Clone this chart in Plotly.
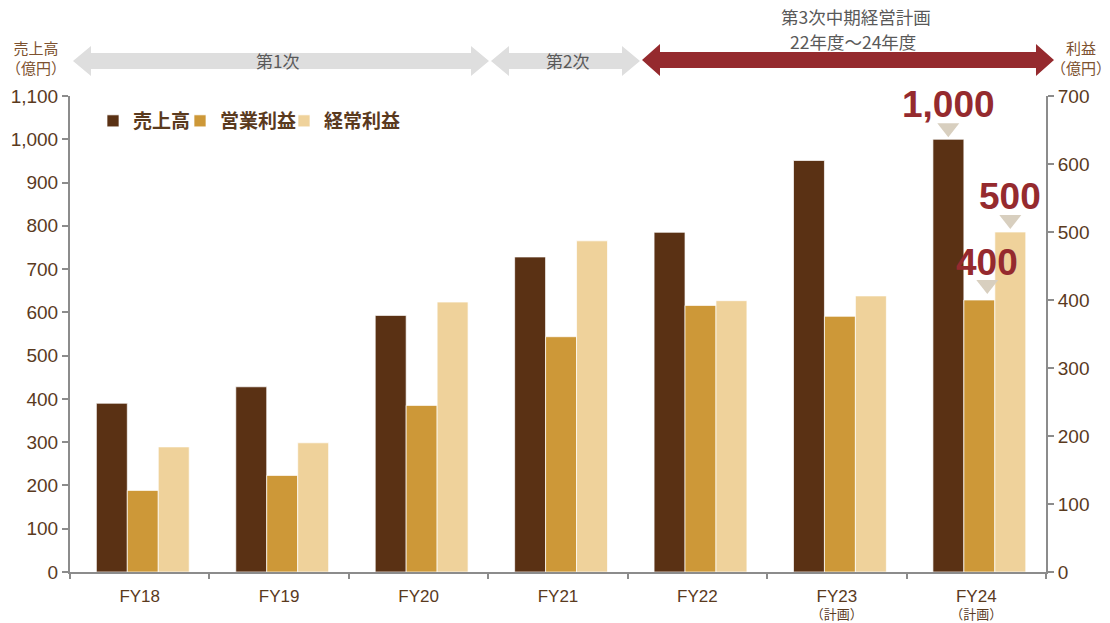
import plotly.graph_objects as go

# ---------------- data ----------------
categories = ["FY18", "FY19", "FY20", "FY21", "FY22", "FY23", "FY24"]
tick_sub = ["", "", "", "", "", "（計画）", "（計画）"]
sales = [390, 428, 593, 728, 785, 951, 1000]            # 売上高 (left axis)
operating_profit = [120, 142, 245, 346, 392, 376, 400]  # 営業利益 (right axis)
ordinary_profit = [184, 190, 397, 487, 399, 406, 500]   # 経常利益 (right axis)
series_names = ["売上高", "営業利益", "経常利益"]
left_ticks = list(range(0, 1101, 100))
right_ticks = list(range(0, 701, 100))
phase_labels = ["第1次", "第2次", "第3次中期経営計画", "22年度～24年度"]
left_title = "売上高<br>（億円）"
right_title = "利益<br>（億円）"

# ---------------- styles ----------------
C_SALES = "#5a3114"
C_OP = "#cd9838"
C_ORD = "#efd29b"
C_TEXT = "#5a3a1e"
C_AXIS = "#8c8c8c"
C_RED = "#952a2e"
C_GRAY_ARROW = "#dedede"
C_TRI = "#d8cfbf"
NUM_FONT = "Liberation Sans, Noto Sans CJK JP, sans-serif"
JP_FONT = "Noto Sans CJK JP, sans-serif"

# plot area in pixels
L, R, T, B = 70, 1046, 96, 572
W, H = 1110, 623
BAR_W = 0.222
BAR_OFFSETS = [-0.311, -0.089, 0.133]


def px(x):
    return (x - L) / (R - L)


def py(y):
    return (B - y) / (B - T)


fig = go.Figure()
legend_ids = ["legend", "legend2", "legend3"]
for i, (vals, color, axis) in enumerate([
    (sales, C_SALES, "y"),
    (operating_profit, C_OP, "y2"),
    (ordinary_profit, C_ORD, "y2"),
]):
    fig.add_trace(go.Bar(
        x=categories, y=vals, name=series_names[i], yaxis=axis,
        offsetgroup=str(i + 1), alignmentgroup="a", legend=legend_ids[i],
        width=BAR_W, offset=BAR_OFFSETS[i],
        marker=dict(color=color, line=dict(color="rgba(255,255,255,0.7)", width=1)),
        hoverinfo="x+y+name",
    ))


def arrow_path(x0, x1, yc, head_len, head_half, shaft_half):
    pts = [
        (x0, yc),
        (x0 + head_len, yc - head_half),
        (x0 + head_len, yc - shaft_half),
        (x1 - head_len, yc - shaft_half),
        (x1 - head_len, yc - head_half),
        (x1, yc),
        (x1 - head_len, yc + head_half),
        (x1 - head_len, yc + shaft_half),
        (x0 + head_len, yc + shaft_half),
        (x0 + head_len, yc + head_half),
    ]
    return "M " + " L ".join(f"{px(a):.5f},{py(b):.5f}" for a, b in pts) + " Z"


shapes = [
    dict(type="path", xref="paper", yref="paper",
         path=arrow_path(73, 489, 61, 18, 15, 8),
         fillcolor=C_GRAY_ARROW, line=dict(width=0), layer="below"),
    dict(type="path", xref="paper", yref="paper",
         path=arrow_path(491, 640, 61, 18, 15, 8),
         fillcolor=C_GRAY_ARROW, line=dict(width=0), layer="below"),
    dict(type="path", xref="paper", yref="paper",
         path=arrow_path(642, 1054, 60, 18, 16, 8),
         fillcolor=C_RED, line=dict(width=0), layer="below"),
]

# highlight markers (triangles) on FY24 bars: pixel-sized shapes anchored to data
highlights = [
    # (value, yref, x shift px, text y shift px, triangle apex gap px)
    (sales[-1], "y", -28, 35, 2),
    (operating_profit[-1], "y2", 11, 38, 6),
    (ordinary_profit[-1], "y2", 34, 36, 3),
]
annotations = []
for val, yref, dx, ty, gap in highlights:
    shapes.append(dict(
        type="path", xref="x", yref=yref,
        xsizemode="pixel", ysizemode="pixel",
        xanchor=categories[-1], yanchor=val,
        path=f"M {dx-11},{gap+14} L {dx+11},{gap+14} L {dx},{gap} Z",
        fillcolor=C_TRI, line=dict(width=0),
    ))
    annotations.append(dict(
        x=categories[-1], y=val, xref="x", yref=yref,
        xshift=dx, yshift=ty, yanchor="middle", xanchor="center",
        text=f"{val:,}", showarrow=False,
        font=dict(family=NUM_FONT, size=37, color=C_RED, weight="bold"),
    ))


def paper_text(x, y, text, size, color):
    return dict(x=px(x), y=py(y), xref="paper", yref="paper", text=text,
                xanchor="center", yanchor="middle", showarrow=False, borderpad=0,
                font=dict(family=JP_FONT, size=size, color=color))


annotations += [
    paper_text(277, 60, phase_labels[0], 17, "#595959"),
    paper_text(567, 60, phase_labels[1], 17, "#595959"),
    paper_text(856, 17, phase_labels[2], 17.5, "#595959"),
    paper_text(853, 42, phase_labels[3], 17.5, "#595959"),
    paper_text(36, 57, left_title, 15, "#7d5230"),
    paper_text(1081, 57, right_title, 15, "#7d5230"),
]

x_ticktext = [f"<span style='font-size:17px'>{c}</span>" + (f"<br>{s}" if s else "")
              for c, s in zip(categories, tick_sub)]

axis_common = dict(
    showgrid=False, zeroline=False, showline=True, linecolor=C_AXIS, linewidth=2,
    ticks="outside", ticklen=6, tickcolor=C_AXIS, tickwidth=2, automargin=False,
    tickfont=dict(family=NUM_FONT, size=19, color=C_TEXT),
)

legend_common = dict(
    orientation="h", y=py(121), xanchor="left", yanchor="middle",
    font=dict(family=JP_FONT, size=19, color=C_TEXT, weight="bold"),
    itemwidth=30, bgcolor="rgba(0,0,0,0)",
)

fig.update_layout(
    width=W, height=H, autosize=False,
    margin=dict(l=L, r=W - R, t=T, b=H - B, pad=0, autoexpand=False),
    paper_bgcolor="white", plot_bgcolor="white",
    barmode="group", bargap=0.333, bargroupgap=0,
    xaxis=dict(
        type="category", categoryorder="array", categoryarray=categories,
        tickvals=categories, ticktext=x_ticktext, tickson="boundaries",
        showgrid=False, zeroline=False, showline=True, linecolor=C_AXIS, linewidth=2,
        ticks="outside", ticklen=5, tickcolor=C_AXIS, tickwidth=2, automargin=False,
        ticklabelstandoff=12,
        tickfont=dict(family=NUM_FONT, size=13, color=C_TEXT),
    ),
    yaxis=dict(range=[0, 1100], tickvals=left_ticks, tickformat=",d", **axis_common),
    yaxis2=dict(range=[0, 700], tickvals=right_ticks, tickformat=",d",
                overlaying="y", side="right", anchor="x", **axis_common),
    legend=dict(x=px(93), **legend_common),
    legend2=dict(x=px(180), **legend_common),
    legend3=dict(x=px(284), **legend_common),
    shapes=shapes,
    annotations=annotations,
    showlegend=True,
)

fig.write_html("out.html")
